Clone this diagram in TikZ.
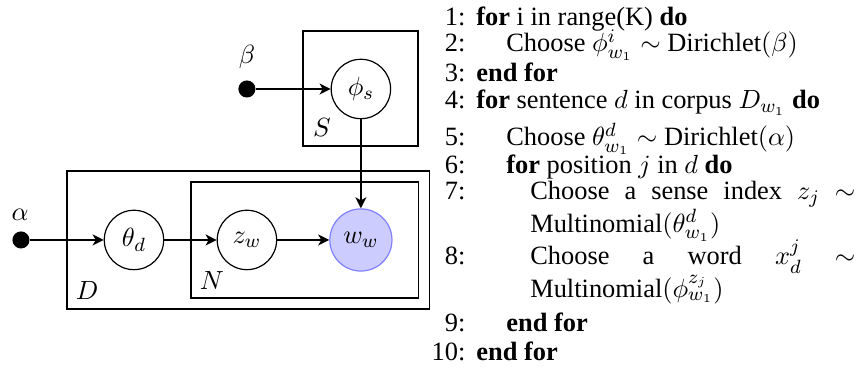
\documentclass[tikz,border=0pt]{standalone}
\usepackage[no-math]{fontspec}
\setmainfont{Liberation Serif}
\usepackage{amsmath,amssymb}
\usepackage{tikz}
\usetikzlibrary{arrows.meta,positioning}
\definecolor{ObsFill}{RGB}{204,204,255}
\definecolor{ObsDraw}{RGB}{128,128,255}

\begin{document}
\begin{tikzpicture}[
  latent/.style={
    draw,
    circle,
    minimum size=0.87cm,
    inner sep=0pt,
    line width=0.5pt
  },
  observed/.style={
    latent,
    draw=ObsDraw,
    fill=ObsFill,
    minimum size=0.91cm
  },
  hyper/.style={circle, fill=black, minimum size=0.25cm, inner sep=0pt},
  plate/.style={draw, line width=0.5pt, inner sep=0pt},
  platelabel/.style={inner sep=0pt},
  arrow/.style={-{Stealth[length=4.6pt,width=4.6pt,inset=1.3pt]}, line width=0.65pt},
  lineno/.style={anchor=base east, inner sep=0pt},
  algline/.style={anchor=base west, inner sep=0pt},
  wrapline/.style={anchor=base west, inner sep=0pt, text width=4.76cm, align=justify,
    font=\fontsize{11}{13.4}\selectfont},
  font=\fontsize{11}{13.2}\selectfont
]
\useasboundingbox (0,0) rectangle (12.55,-5.36);

% plates
\node[plate, minimum width=1.684cm, minimum height=1.684cm] (plateS) at (5.278,-1.296) {};
\node[plate, minimum width=5.314cm, minimum height=2.020cm] (plateD) at (3.638,-3.514) {};
\node[plate, minimum width=3.338cm, minimum height=1.698cm] (plateN) at (4.465,-3.514) {};
\node[platelabel] (labS) at (4.714,-1.874) {$S$};
\node[platelabel] (labD) at (1.274,-4.260) {$D$};
\node[platelabel] (labN) at (3.104,-4.114) {$N$};

% variables
\node[hyper] (alpha) at (0.307,-3.514) {};
\node[platelabel] (alphalab) at (0.293,-3.148) {$\alpha$};
\node[hyper] (beta) at (3.616,-1.303) {};
\node[platelabel] (betalab) at (3.616,-0.834) {$\beta$};
\node[latent] (theta) at (1.962,-3.514) {$\theta_d$};
\node[latent] (z) at (3.616,-3.514) {$z_w$};
\node[observed] (w) at (5.285,-3.514) {$w_w$};
\node[latent] (phi) at (5.285,-1.303) {$\phi_s$};

\draw[arrow] (alpha) -- (theta);
\draw[arrow] (theta) -- (z);
\draw[arrow] (z) -- (w);
\draw[arrow] (beta) -- (phi);
\draw[arrow] (phi) -- (w);

% algorithm
\node[lineno] (n1) at (6.822,-0.366) {1:};
\node[lineno] (n2) at (6.822,-0.761) {2:};
\node[lineno] (n3) at (6.822,-1.200) {3:};
\node[lineno] (n4) at (6.822,-1.596) {4:};
\node[lineno] (n5) at (6.822,-2.137) {5:};
\node[lineno] (n6) at (6.822,-2.547) {6:};
\node[lineno] (n7) at (6.822,-2.928) {7:};
\node[lineno] (n8) at (6.822,-3.880) {8:};
\node[lineno] (n9) at (6.822,-4.860) {9:};
\node[lineno] (n10) at (6.822,-5.285) {10:};

\node[algline] (l1) at (6.969,-0.366) {\textbf{for} i in range(K) \textbf{do}};
\node[algline] (l2) at (7.408,-0.761) {Choose $\phi^i_{w_1} \sim$ Dirichlet$(\beta)$};
\node[algline] (l3) at (6.969,-1.200) {\textbf{end for}};
\node[algline] (l4) at (6.969,-1.596) {\textbf{for} sentence $d$ in corpus $D_{w_1}$ \textbf{do}};
\node[algline] (l5) at (7.408,-2.137) {Choose $\theta^d_{w_1} \sim$ Dirichlet$(\alpha)$};
\node[algline] (l6) at (7.408,-2.547) {\textbf{for} position $j$ in $d$ \textbf{do}};
\node[wrapline] (l7) at (7.759,-2.928) {Choose a sense index $z_j$ $\sim$\linebreak Multinomial$(\theta^d_{w_1})$};
\node[wrapline] (l8) at (7.759,-3.880) {Choose a word $x^j_d$ $\sim$\linebreak Multinomial$(\phi^{z_j}_{w_1})$};
\node[algline] (l9) at (7.408,-4.860) {\textbf{end for}};
\node[algline] (l10) at (6.969,-5.285) {\textbf{end for}};
\end{tikzpicture}
\end{document}
